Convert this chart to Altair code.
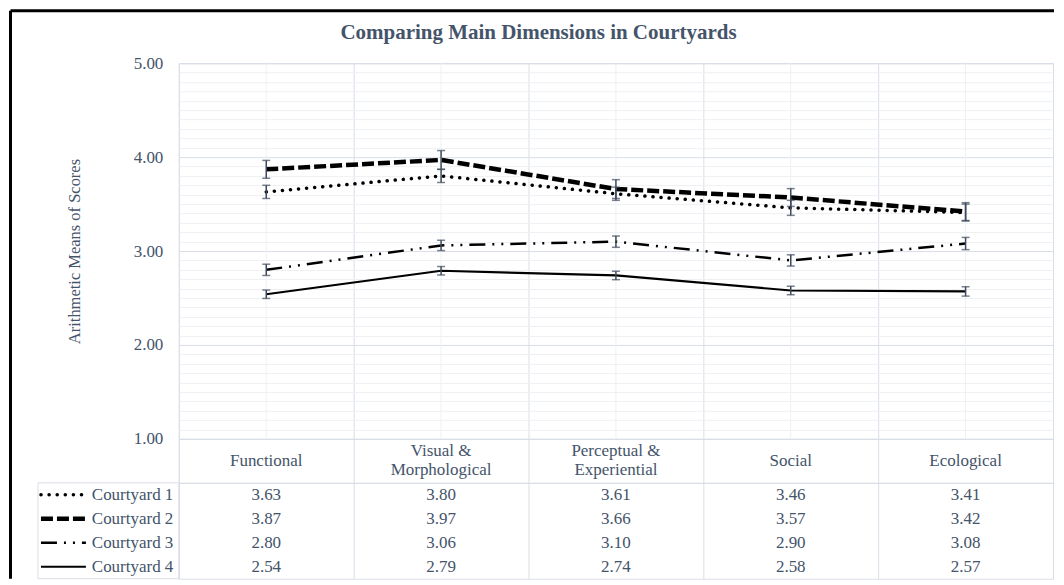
import altair as alt
import pandas as pd

# ---------------- data ----------------
categories = ["Functional", "Visual & Morphological", "Perceptual & Experiential", "Social", "Ecological"]
category_labels = ["Functional", "Visual &\nMorphological", "Perceptual &\nExperiential", "Social", "Ecological"]
series = ["Courtyard 1", "Courtyard 2", "Courtyard 3", "Courtyard 4"]

courtyard1 = [3.63, 3.80, 3.61, 3.46, 3.41]
courtyard2 = [3.87, 3.97, 3.66, 3.57, 3.42]
courtyard3 = [2.80, 3.06, 3.10, 2.90, 3.08]
courtyard4 = [2.54, 2.79, 2.74, 2.58, 2.57]

# error bar half-widths
err1 = [0.07, 0.07, 0.07, 0.08, 0.09]
err2 = [0.095, 0.10, 0.10, 0.095, 0.095]
err3 = [0.06, 0.055, 0.06, 0.06, 0.065]
err4 = [0.045, 0.045, 0.045, 0.045, 0.05]

y_grid = [round(1 + i / 10, 1) for i in range(41)]  # axis grid positions (labels only on whole numbers)

title_text = "Comparing Main Dimensions in Courtyards"
y_title = "Arithmetic Means of Scores"

rows = []
for s, vals, errs in zip(series, [courtyard1, courtyard2, courtyard3, courtyard4], [err1, err2, err3, err4]):
    for c, lab, v, e in zip(categories, category_labels, vals, errs):
        rows.append({"series": s, "category": c, "label": lab, "value": v, "err": e})
df = pd.DataFrame(rows)
cat_df = pd.DataFrame({"category": categories, "label": category_labels})
one = pd.DataFrame({"t": [0]})

# ---------------- styles ----------------
FONT = "Liberation Serif"
TXT = "#44546A"
MAJOR = "#D9DEE6"
MINOR = "#EEF0F4"
ERR = "#3E4A5C"
FS = 17

styles = {
    "Courtyard 1": dict(strokeDash=[0.1, 8], strokeWidth=3.5, strokeCap="round"),
    "Courtyard 2": dict(strokeDash=[12, 4], strokeWidth=4.5, strokeCap="butt"),
    "Courtyard 3": dict(strokeDash=[16, 7, 2, 7, 2, 7], strokeWidth=2.5, strokeCap="butt"),
    "Courtyard 4": dict(strokeWidth=2.2, strokeCap="butt"),
}

W = 875
H_PLOT = 376
H_HEAD = 44
H_TAB = 96
LH = 19

x_scale = alt.Scale(type="band", domain=categories, paddingInner=0, paddingOuter=0)
x_axis = alt.Axis(grid=True, tickBand="extent", labels=False, ticks=False, domain=False,
                  title=None, gridColor=MAJOR, gridWidth=1)


def X(field="category:N"):
    return alt.X(field, scale=x_scale, axis=x_axis)


y_scale = alt.Scale(domain=[1, 5], nice=False, zero=False)
y_axis = alt.Axis(
    values=y_grid,
    gridColor={"condition": {"test": "abs(datum.value - round(datum.value)) < 0.001", "value": MAJOR},
               "value": MINOR},
    labelExpr="abs(datum.value - round(datum.value)) < 0.001 ? format(datum.value, '.2f') : ''",
    labelOverlap=False, labelBound=False, ticks=False, domain=False, labelPadding=16,
    title=y_title, titleX=-104, titleY=H_PLOT / 2, titleAngle=270, titleAlign="center",
    titleBaseline="middle", titleFont=FONT, titleFontSize=16.5, titleFontWeight="normal", titleColor=TXT,
)


def Y(field):
    return alt.Y(field, scale=y_scale, axis=y_axis)


base = alt.Chart(df)

center_rules = alt.Chart(cat_df).mark_rule(color=MINOR, strokeWidth=1).encode(x=X())

line_layers = []
for s in series:
    line_layers.append(
        base.transform_filter(alt.datum.series == s)
        .mark_line(color="black", **styles[s])
        .encode(x=X(), y=Y("value:Q"), detail="series:N")
    )

eb = base.transform_calculate(lo="datum.value - datum.err", hi="datum.value + datum.err")
err_rule = eb.mark_rule(color=ERR, strokeWidth=1.5).encode(x=X(), y=Y("lo:Q"), y2="hi:Q")
cap_lo = eb.mark_tick(color=ERR, size=8, thickness=1.5).encode(x=X(), y=Y("lo:Q"))
cap_hi = eb.mark_tick(color=ERR, size=8, thickness=1.5).encode(x=X(), y=Y("hi:Q"))

title_mark = alt.Chart(one).mark_text(
    text=title_text, font=FONT, fontSize=21, fontWeight="bold", color=TXT, align="center", baseline="middle"
).encode(x=alt.value(360), y=alt.value(-30))

border_top = alt.Chart(one).mark_rule(color="black", strokeWidth=3).encode(
    x=alt.value(-168.5), x2=alt.value(876), y=alt.value(-52.5))
border_left = alt.Chart(one).mark_rule(color="black", strokeWidth=3).encode(
    x=alt.value(-168.5), y=alt.value(-52.5), y2=alt.value(H_PLOT + H_HEAD + H_TAB))

top = alt.layer(center_rules, *line_layers, err_rule, cap_lo, cap_hi, title_mark, border_top, border_left
                ).properties(width=W, height=H_PLOT)

# ---------------- header row ----------------
header = alt.Chart(cat_df).transform_calculate(
    ypix=f"{H_HEAD / 2} - (length(split(datum.label, '\\n')) - 1) * {LH / 2}"
).mark_text(
    font=FONT, fontSize=FS, color=TXT, lineBreak="\n", lineHeight=LH, align="center", baseline="middle"
).encode(x=X(), y=alt.Y("ypix:Q", scale=None), text="label:N").properties(width=W, height=H_HEAD)

# ---------------- data table ----------------
y_tab = alt.Y("series:N", scale=alt.Scale(type="band", domain=series, paddingInner=0, paddingOuter=0),
              axis=alt.Axis(title=None, ticks=False, domain=False, labelPadding=6, grid=False,
                            labelFont=FONT, labelFontSize=FS, labelColor=TXT))

tab_text = base.mark_text(font=FONT, fontSize=FS, color=TXT, align="center", baseline="middle").encode(
    x=X(), y=y_tab, text=alt.Text("value:Q", format=".2f"))

legend_layers = []
for s in series:
    st = dict(styles[s])
    sw = st.pop("strokeWidth")
    legend_layers.append(
        base.transform_filter((alt.datum.series == s) & (alt.datum.category == categories[0]))
        .mark_rule(color="black", strokeWidth=sw, **st)
        .encode(x=alt.value(-138), x2=alt.value(-93), y=y_tab)
    )

legend_box = alt.Chart(one).mark_rect(fillOpacity=0, stroke=MAJOR, strokeWidth=1).encode(
    x=alt.value(-141), x2=alt.value(0), y=alt.value(0), y2=alt.value(H_TAB))

table = alt.layer(legend_box, tab_text, *legend_layers).properties(width=W, height=H_TAB)

chart = alt.vconcat(top, header, table, spacing=0, bounds="flush").properties(
    padding=0
).configure_view(stroke=MAJOR, strokeWidth=1).configure_axis(
    labelFont=FONT, labelFontSize=FS, labelColor=TXT
)

chart.save("out.html", embed_options={"renderer": "svg", "actions": False})
